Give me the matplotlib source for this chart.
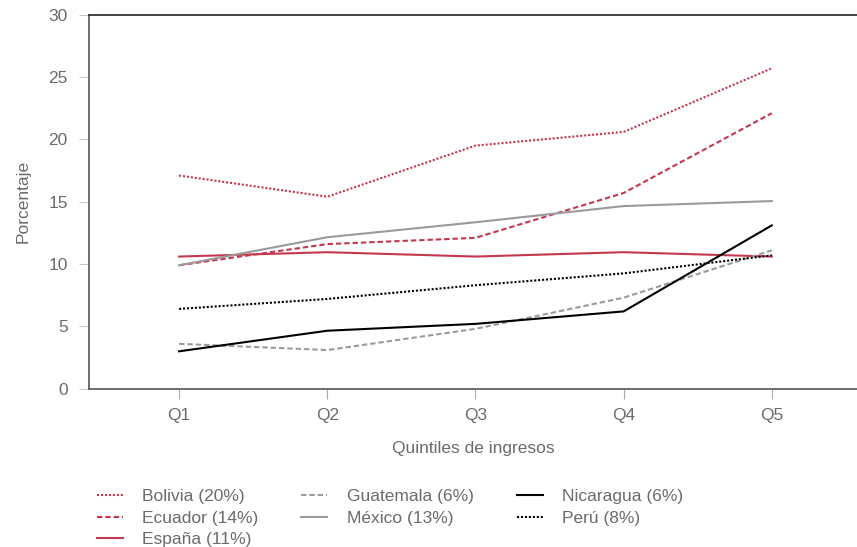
import matplotlib
matplotlib.use("Agg")
import matplotlib.pyplot as plt

plt.rcParams['font.family'] = ['Liberation Sans', 'DejaVu Sans']

quintiles = ["Q1", "Q2", "Q3", "Q4", "Q5"]

bolivia = [17.1, 15.4, 19.5, 20.6, 25.7]
ecuador = [9.9, 11.6, 12.1, 15.7, 22.1]
espana = [10.6, 10.95, 10.6, 10.95, 10.6]
guatemala = [3.6, 3.1, 4.8, 7.3, 11.1]
mexico = [9.9, 12.15, 13.35, 14.65, 15.05]
nicaragua = [3.0, 4.65, 5.2, 6.2, 13.1]
peru = [6.4, 7.2, 8.3, 9.25, 10.7]

labels = ["Bolivia (20%)", "Ecuador (14%)", "España (11%)",
          "Guatemala (6%)", "México (13%)",
          "Nicaragua (6%)", "Perú (8%)"]

RED = "#c4384f"
GREY = "#9a9a9a"
BLACK = "#000000"
TXT = "#6b6b6b"

DOT = (0, (1, 0.9))
DASH = (0, (2.6, 1.4))

series = [
    (bolivia, RED, DOT),
    (ecuador, RED, DASH),
    (espana, RED, "-"),
    (guatemala, GREY, DASH),
    (mexico, GREY, "-"),
    (nicaragua, BLACK, "-"),
    (peru, BLACK, DOT),
]

FS = 12.5

fig = plt.figure(figsize=(8.57, 5.47), dpi=100)
ax = fig.add_axes([0.1035, 0.2894, 0.8965, 0.6837])

x = list(range(len(quintiles)))
handles = []
for (vals, color, ls), lab in zip(series, labels):
    ln, = ax.plot(x, vals, color=color, linestyle=ls, lw=1.5, label=lab)
    handles.append(ln)

ax.set_xlim(-0.61, 4.575)
ax.set_ylim(0, 30)
ax.set_yticks(range(0, 31, 5))
ax.set_xticks(x)
ax.set_xticklabels(quintiles)

ax.spines['right'].set_visible(False)
ax.spines['top'].set_color("#222222")
ax.spines['left'].set_color("#555555")
ax.spines['bottom'].set_color("#555555")
for s in ax.spines.values():
    s.set_linewidth(1.2)

ax.tick_params(axis='y', length=7, color="#c8c8c8", labelsize=FS, labelcolor=TXT, pad=8)
ax.tick_params(axis='x', length=7, color="#aaaaaa", labelsize=FS, labelcolor=TXT, pad=7)

ax.set_xlabel("Quintiles de ingresos", fontsize=FS, color=TXT, labelpad=13)
ax.set_ylabel("Porcentaje", fontsize=FS, color=TXT, labelpad=13)

# Legend in three columns below the plot
leg = fig.legend(handles=handles, labels=labels, ncol=3,
                 loc='upper left', bbox_to_anchor=(0.1127, 0.106),
                 frameon=False, fontsize=FS, handlelength=1.5,
                 handletextpad=1.1, columnspacing=2.5, labelspacing=0.37,
                 borderaxespad=0, borderpad=0)
for t in leg.get_texts():
    t.set_color(TXT)

fig.savefig("out.png", dpi=100)
